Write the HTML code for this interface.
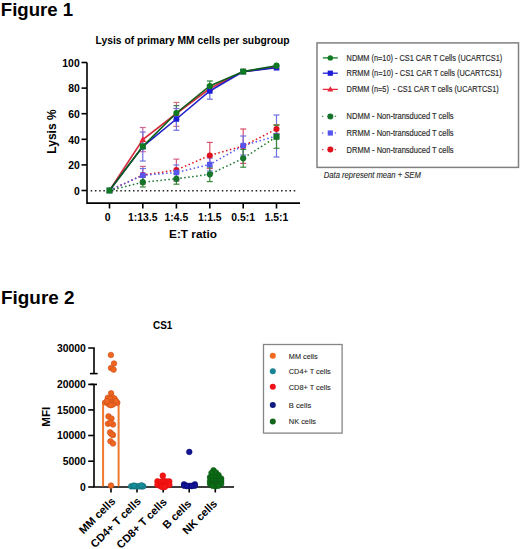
<!DOCTYPE html>
<html><head><meta charset="utf-8"><style>
html,body{margin:0;padding:0;background:#fff;width:520px;height:549px;overflow:hidden}
svg{display:block}
text{font-family:"Liberation Sans",sans-serif}
</style></head><body>
<svg width="520" height="549" viewBox="0 0 520 549">
<text x="0.8" y="15.8" font-family="Liberation Sans, sans-serif" font-size="19" font-weight="bold" textLength="72.3" lengthAdjust="spacingAndGlyphs">Figure 1</text>
<text x="1" y="303.5" font-family="Liberation Sans, sans-serif" font-size="19" font-weight="bold" textLength="73.5" lengthAdjust="spacingAndGlyphs">Figure 2</text>
<text x="95.6" y="44.4" font-family="Liberation Sans, sans-serif" font-size="10.3" font-weight="bold" textLength="194" lengthAdjust="spacingAndGlyphs">Lysis of primary MM cells per subgroup</text>
<g stroke="#000" stroke-width="1.6" fill="none">
<polyline points="87,62.5 87,203.1 300,203.1"/>
<line x1="81.5" y1="62.5" x2="87" y2="62.5"/>
<line x1="81.5" y1="88.1" x2="87" y2="88.1"/>
<line x1="81.5" y1="113.7" x2="87" y2="113.7"/>
<line x1="81.5" y1="139.3" x2="87" y2="139.3"/>
<line x1="81.5" y1="164.9" x2="87" y2="164.9"/>
<line x1="81.5" y1="190.5" x2="87" y2="190.5"/>
<line x1="109.5" y1="203" x2="109.5" y2="208.5"/>
<line x1="142.8" y1="203" x2="142.8" y2="208.5"/>
<line x1="176.4" y1="203" x2="176.4" y2="208.5"/>
<line x1="209.8" y1="203" x2="209.8" y2="208.5"/>
<line x1="243.2" y1="203" x2="243.2" y2="208.5"/>
<line x1="276.5" y1="203" x2="276.5" y2="208.5"/>
</g>
<line x1="90.7" y1="190.7" x2="297" y2="190.7" stroke="#222" stroke-width="1.5" stroke-dasharray="1.5 2.73"/>
<text x="79.7" y="66.8" font-family="Liberation Sans, sans-serif" font-size="10.4" font-weight="bold" text-anchor="end">100</text>
<text x="79.7" y="92.39999999999999" font-family="Liberation Sans, sans-serif" font-size="10.4" font-weight="bold" text-anchor="end">80</text>
<text x="79.7" y="118.0" font-family="Liberation Sans, sans-serif" font-size="10.4" font-weight="bold" text-anchor="end">60</text>
<text x="79.7" y="143.60000000000002" font-family="Liberation Sans, sans-serif" font-size="10.4" font-weight="bold" text-anchor="end">40</text>
<text x="79.7" y="169.20000000000002" font-family="Liberation Sans, sans-serif" font-size="10.4" font-weight="bold" text-anchor="end">20</text>
<text x="79.7" y="194.8" font-family="Liberation Sans, sans-serif" font-size="10.4" font-weight="bold" text-anchor="end">0</text>
<text x="107.6" y="221" font-family="Liberation Sans, sans-serif" font-size="10.4" font-weight="bold" text-anchor="middle">0</text>
<text x="142.8" y="221" font-family="Liberation Sans, sans-serif" font-size="10.4" font-weight="bold" text-anchor="middle">1:13.5</text>
<text x="176.4" y="221" font-family="Liberation Sans, sans-serif" font-size="10.4" font-weight="bold" text-anchor="middle">1:4.5</text>
<text x="209.8" y="221" font-family="Liberation Sans, sans-serif" font-size="10.4" font-weight="bold" text-anchor="middle">1:1.5</text>
<text x="243.2" y="221" font-family="Liberation Sans, sans-serif" font-size="10.4" font-weight="bold" text-anchor="middle">0.5:1</text>
<text x="276.5" y="221" font-family="Liberation Sans, sans-serif" font-size="10.4" font-weight="bold" text-anchor="middle">1.5:1</text>
<text x="193" y="237.7" font-family="Liberation Sans, sans-serif" font-size="11.8" font-weight="bold" text-anchor="middle">E:T ratio</text>
<text transform="translate(55.8,131.5) rotate(-90)" font-family="Liberation Sans, sans-serif" font-size="12" font-weight="bold" text-anchor="middle">Lysis %</text>
<polyline points="109.5,190.5 142.8,175.0 176.4,170.0 209.8,155.4 243.2,146.0 276.5,129.1" fill="none" stroke="#e0101c" stroke-width="1.5" stroke-dasharray="1.5 2.5"/>
<polyline points="109.5,190.5 142.8,175.3 176.4,172.5 209.8,164.5 243.2,145.6 276.5,136.0" fill="none" stroke="#5656ee" stroke-width="1.5" stroke-dasharray="1.5 2.5"/>
<polyline points="109.5,190.5 142.8,182.2 176.4,178.8 209.8,174.3 243.2,158.3 276.5,136.8" fill="none" stroke="#15732a" stroke-width="1.5" stroke-dasharray="1.5 2.5"/>
<g stroke="#d0689a" stroke-width="1.2"><line x1="142.8" y1="127.5" x2="142.8" y2="151.7"/><line x1="139.8" y1="127.5" x2="145.8" y2="127.5"/><line x1="139.8" y1="151.7" x2="145.8" y2="151.7"/></g>
<g stroke="#7070e0" stroke-width="1.2"><line x1="142.8" y1="132" x2="142.8" y2="161"/><line x1="139.8" y1="132" x2="145.8" y2="132"/><line x1="139.8" y1="161" x2="145.8" y2="161"/></g>
<g stroke="#d87080" stroke-width="1.2"><line x1="176.4" y1="102.4" x2="176.4" y2="126.3"/><line x1="173.4" y1="102.4" x2="179.4" y2="102.4"/><line x1="173.4" y1="126.3" x2="179.4" y2="126.3"/></g>
<g stroke="#4a7a5a" stroke-width="1.2"><line x1="176.4" y1="105.6" x2="176.4" y2="119.5"/><line x1="173.4" y1="105.6" x2="179.4" y2="105.6"/><line x1="173.4" y1="119.5" x2="179.4" y2="119.5"/></g>
<g stroke="#7070e0" stroke-width="1.2"><line x1="176.4" y1="108.5" x2="176.4" y2="130.3"/><line x1="173.4" y1="108.5" x2="179.4" y2="108.5"/><line x1="173.4" y1="130.3" x2="179.4" y2="130.3"/></g>
<g stroke="#2a8a3a" stroke-width="1.2"><line x1="209.8" y1="81" x2="209.8" y2="91"/><line x1="206.8" y1="81" x2="212.8" y2="81"/><line x1="206.8" y1="91" x2="212.8" y2="91"/></g>
<g stroke="#7070e0" stroke-width="1.2"><line x1="209.8" y1="86" x2="209.8" y2="99.2"/><line x1="206.8" y1="86" x2="212.8" y2="86"/><line x1="206.8" y1="99.2" x2="212.8" y2="99.2"/></g>
<g stroke="#d06080" stroke-width="1.2"><line x1="142.8" y1="166.4" x2="142.8" y2="184"/><line x1="139.8" y1="166.4" x2="145.8" y2="166.4"/><line x1="139.8" y1="184" x2="145.8" y2="184"/></g>
<g stroke="#7070e0" stroke-width="1.2"><line x1="142.8" y1="168.5" x2="142.8" y2="182"/><line x1="139.8" y1="168.5" x2="145.8" y2="168.5"/><line x1="139.8" y1="182" x2="145.8" y2="182"/></g>
<g stroke="#3a8a3a" stroke-width="1.2"><line x1="142.8" y1="177" x2="142.8" y2="187"/><line x1="139.8" y1="177" x2="145.8" y2="177"/><line x1="139.8" y1="187" x2="145.8" y2="187"/></g>
<g stroke="#d06080" stroke-width="1.2"><line x1="176.4" y1="159.1" x2="176.4" y2="181"/><line x1="173.4" y1="159.1" x2="179.4" y2="159.1"/><line x1="173.4" y1="181" x2="179.4" y2="181"/></g>
<g stroke="#7070e0" stroke-width="1.2"><line x1="176.4" y1="165" x2="176.4" y2="180"/><line x1="173.4" y1="165" x2="179.4" y2="165"/><line x1="173.4" y1="180" x2="179.4" y2="180"/></g>
<g stroke="#3a8a3a" stroke-width="1.2"><line x1="176.4" y1="173.5" x2="176.4" y2="184.2"/><line x1="173.4" y1="173.5" x2="179.4" y2="173.5"/><line x1="173.4" y1="184.2" x2="179.4" y2="184.2"/></g>
<g stroke="#d8506a" stroke-width="1.2"><line x1="209.8" y1="142.4" x2="209.8" y2="168.4"/><line x1="206.8" y1="142.4" x2="212.8" y2="142.4"/><line x1="206.8" y1="168.4" x2="212.8" y2="168.4"/></g>
<g stroke="#7070e0" stroke-width="1.2"><line x1="209.8" y1="158" x2="209.8" y2="171"/><line x1="206.8" y1="158" x2="212.8" y2="158"/><line x1="206.8" y1="171" x2="212.8" y2="171"/></g>
<g stroke="#3a8a3a" stroke-width="1.2"><line x1="209.8" y1="167" x2="209.8" y2="181.6"/><line x1="206.8" y1="167" x2="212.8" y2="167"/><line x1="206.8" y1="181.6" x2="212.8" y2="181.6"/></g>
<g stroke="#d8506a" stroke-width="1.2"><line x1="243.2" y1="129" x2="243.2" y2="163.4"/><line x1="240.2" y1="129" x2="246.2" y2="129"/><line x1="240.2" y1="163.4" x2="246.2" y2="163.4"/></g>
<g stroke="#7070e0" stroke-width="1.2"><line x1="243.2" y1="136" x2="243.2" y2="155"/><line x1="240.2" y1="136" x2="246.2" y2="136"/><line x1="240.2" y1="155" x2="246.2" y2="155"/></g>
<g stroke="#3a8a3a" stroke-width="1.2"><line x1="243.2" y1="149.4" x2="243.2" y2="167.2"/><line x1="240.2" y1="149.4" x2="246.2" y2="149.4"/><line x1="240.2" y1="167.2" x2="246.2" y2="167.2"/></g>
<g stroke="#7070e0" stroke-width="1.2"><line x1="276.5" y1="115" x2="276.5" y2="157"/><line x1="273.5" y1="115" x2="279.5" y2="115"/><line x1="273.5" y1="157" x2="279.5" y2="157"/></g>
<g stroke="#b07060" stroke-width="1.2"><line x1="276.5" y1="124.7" x2="276.5" y2="133.5"/><line x1="273.5" y1="124.7" x2="279.5" y2="124.7"/><line x1="273.5" y1="133.5" x2="279.5" y2="133.5"/></g>
<g stroke="#3a8a3a" stroke-width="1.2"><line x1="276.5" y1="125.3" x2="276.5" y2="148.3"/><line x1="273.5" y1="125.3" x2="279.5" y2="125.3"/><line x1="273.5" y1="148.3" x2="279.5" y2="148.3"/></g>
<circle cx="142.8" cy="175.0" r="3" fill="#e0101c"/>
<rect x="140.05" y="172.55" width="5.5" height="5.5" fill="#5656ee"/>
<circle cx="142.8" cy="182.2" r="3.1" fill="#15732a"/>
<circle cx="176.4" cy="170.0" r="3" fill="#e0101c"/>
<rect x="173.65" y="169.75" width="5.5" height="5.5" fill="#5656ee"/>
<circle cx="176.4" cy="178.8" r="3.1" fill="#15732a"/>
<circle cx="209.8" cy="155.4" r="3" fill="#e0101c"/>
<rect x="207.05" y="161.75" width="5.5" height="5.5" fill="#5656ee"/>
<circle cx="209.8" cy="174.3" r="3.1" fill="#15732a"/>
<circle cx="243.2" cy="146.0" r="3" fill="#e0101c"/>
<rect x="240.45" y="142.85" width="5.5" height="5.5" fill="#5656ee"/>
<circle cx="243.2" cy="158.3" r="3.1" fill="#15732a"/>
<circle cx="276.5" cy="129.1" r="3" fill="#e0101c"/>
<rect x="273.75" y="133.25" width="5.5" height="5.5" fill="#5656ee"/>
<rect x="273.5" y="133.8" width="6" height="6" fill="#15732a"/>
<polyline points="109.5,190.5 142.8,139.6 176.4,113.5 209.8,88.5 243.2,71.6 276.5,67.0" fill="none" stroke="#d42a3c" stroke-width="1.6"/>
<polyline points="109.5,190.5 142.8,146.6 176.4,119.0 209.8,91.0 243.2,71.6 276.5,67.8" fill="none" stroke="#2020c8" stroke-width="1.6"/>
<polyline points="109.5,190.5 142.8,146.4 176.4,113.0 209.8,86.0 243.2,71.6 276.5,65.7" fill="none" stroke="#0c5e18" stroke-width="1.6"/>
<polygon points="109.5,186.99 112.75,192.84 106.25,192.84" fill="#e8283c"/>
<rect x="106.75" y="187.75" width="5.5" height="5.5" fill="#1c1cd8"/>
<rect x="106.5" y="187.5" width="6" height="6" fill="#0f7a22"/>
<polygon points="142.8,136.09 146.05,141.94 139.55,141.94" fill="#e8283c"/>
<rect x="140.05" y="143.85" width="5.5" height="5.5" fill="#1c1cd8"/>
<rect x="139.8" y="143.4" width="6" height="6" fill="#0f7a22"/>
<polygon points="176.4,109.99 179.65,115.84 173.15,115.84" fill="#e8283c"/>
<rect x="173.65" y="116.25" width="5.5" height="5.5" fill="#1c1cd8"/>
<circle cx="176.4" cy="113.0" r="3.1" fill="#0f7a22"/>
<polygon points="209.8,84.99 213.05,90.84 206.55,90.84" fill="#e8283c"/>
<rect x="207.05" y="88.25" width="5.5" height="5.5" fill="#1c1cd8"/>
<circle cx="209.8" cy="86.0" r="3.1" fill="#0f7a22"/>
<polygon points="243.2,68.08999999999999 246.45,73.94 239.95,73.94" fill="#e8283c"/>
<rect x="240.45" y="68.85" width="5.5" height="5.5" fill="#1c1cd8"/>
<rect x="240.2" y="68.6" width="6" height="6" fill="#0f7a22"/>
<polygon points="276.5,63.49 279.75,69.34 273.25,69.34" fill="#e8283c"/>
<rect x="273.75" y="65.05" width="5.5" height="5.5" fill="#1c1cd8"/>
<circle cx="276.5" cy="65.7" r="3.1" fill="#0f7a22"/>
<rect x="317" y="42.9" width="201.5" height="124.5" fill="none" stroke="#808080" stroke-width="1.5"/>
<line x1="322.8" y1="57.9" x2="337.8" y2="57.9" stroke="#0f7a22" stroke-width="1.3"/>
<circle cx="330.3" cy="57.9" r="2.7" fill="#0f7a22"/>
<text x="346.6" y="60.5" font-family="Liberation Sans, sans-serif" font-size="8.2" fill="#2a2a2a" stroke="#2a2a2a" stroke-width="0.15" textLength="155.7" lengthAdjust="spacingAndGlyphs" xml:space="preserve">NDMM (n=10) - CS1 CAR T Cells (UCARTCS1)</text>
<line x1="322.8" y1="73.2" x2="337.8" y2="73.2" stroke="#1c1cd8" stroke-width="1.3"/>
<rect x="327.7" y="70.60000000000001" width="5.2" height="5.2" fill="#1c1cd8"/>
<text x="346.6" y="75.8" font-family="Liberation Sans, sans-serif" font-size="8.2" fill="#2a2a2a" stroke="#2a2a2a" stroke-width="0.15" textLength="155.1" lengthAdjust="spacingAndGlyphs" xml:space="preserve">RRMM (n=10) - CS1 CAR T cells (UCARTCS1)</text>
<line x1="322.8" y1="89.4" x2="337.8" y2="89.4" stroke="#e8283c" stroke-width="1.3"/>
<polygon points="330.3,86.16000000000001 333.3,91.56 327.3,91.56" fill="#e8283c"/>
<text x="346.6" y="92.0" font-family="Liberation Sans, sans-serif" font-size="8.2" fill="#2a2a2a" stroke="#2a2a2a" stroke-width="0.15" textLength="152.2" lengthAdjust="spacingAndGlyphs" xml:space="preserve">DRMM (n=5)  - CS1 CAR T cells (UCARTCS1)</text>
<line x1="322" y1="116.4" x2="338" y2="116.4" stroke="#15732a" stroke-width="1.3" stroke-dasharray="1.3 11.5" opacity="0.8"/>
<circle cx="330.3" cy="116.4" r="3" fill="#15732a"/>
<text x="346.6" y="119.4" font-family="Liberation Sans, sans-serif" font-size="8.2" fill="#2a2a2a" stroke="#2a2a2a" stroke-width="0.15" textLength="107" lengthAdjust="spacingAndGlyphs" xml:space="preserve">NDMM - Non-transduced T cells</text>
<line x1="322" y1="133.0" x2="338" y2="133.0" stroke="#5656ee" stroke-width="1.3" stroke-dasharray="1.3 11.5" opacity="0.8"/>
<rect x="327.7" y="130.4" width="5.2" height="5.2" fill="#5656ee"/>
<text x="346.6" y="136.0" font-family="Liberation Sans, sans-serif" font-size="8.2" fill="#2a2a2a" stroke="#2a2a2a" stroke-width="0.15" textLength="107" lengthAdjust="spacingAndGlyphs" xml:space="preserve">RRMM - Non-transduced T cells</text>
<line x1="322" y1="149.6" x2="338" y2="149.6" stroke="#e0101c" stroke-width="1.3" stroke-dasharray="1.3 11.5" opacity="0.8"/>
<circle cx="330.3" cy="149.6" r="3" fill="#e0101c"/>
<text x="346.6" y="152.6" font-family="Liberation Sans, sans-serif" font-size="8.2" fill="#2a2a2a" stroke="#2a2a2a" stroke-width="0.15" textLength="107" lengthAdjust="spacingAndGlyphs" xml:space="preserve">DRMM - Non-transduced T cells</text>
<text x="323.8" y="178.1" font-family="Liberation Sans, sans-serif" font-size="8.2" font-style="italic" fill="#2a2a2a" stroke="#2a2a2a" stroke-width="0.12" textLength="97" lengthAdjust="spacingAndGlyphs">Data represent mean + SEM</text>
<text x="153" y="328.9" font-family="Liberation Sans, sans-serif" font-size="10" font-weight="bold" textLength="19.4" lengthAdjust="spacingAndGlyphs">CS1</text>
<g stroke="#000" stroke-width="1.6" fill="none">
<polyline points="88.2,348 94,348 94,373.6"/>
<line x1="90" y1="373.6" x2="97.6" y2="373.6"/>
<line x1="90.5" y1="384.4" x2="97" y2="384.4"/>
<line x1="88.2" y1="384.4" x2="94" y2="384.4"/>
<polyline points="94,384.4 94,487 234,487"/>
<line x1="88.2" y1="409.9" x2="94" y2="409.9"/>
<line x1="88.2" y1="435.5" x2="94" y2="435.5"/>
<line x1="88.2" y1="461.2" x2="94" y2="461.2"/>
<line x1="88.2" y1="487" x2="94" y2="487"/>
</g>
<line x1="111" y1="487" x2="111" y2="492.5" stroke="#000" stroke-width="1.6"/>
<line x1="137" y1="487" x2="137" y2="492.5" stroke="#000" stroke-width="1.6"/>
<line x1="163.2" y1="487" x2="163.2" y2="492.5" stroke="#000" stroke-width="1.6"/>
<line x1="189.2" y1="487" x2="189.2" y2="492.5" stroke="#000" stroke-width="1.6"/>
<line x1="215.3" y1="487" x2="215.3" y2="492.5" stroke="#000" stroke-width="1.6"/>
<text x="85.8" y="351.7" font-family="Liberation Sans, sans-serif" font-size="10.4" font-weight="bold" text-anchor="end">30000</text>
<text x="85.8" y="388.09999999999997" font-family="Liberation Sans, sans-serif" font-size="10.4" font-weight="bold" text-anchor="end">20000</text>
<text x="85.8" y="413.59999999999997" font-family="Liberation Sans, sans-serif" font-size="10.4" font-weight="bold" text-anchor="end">15000</text>
<text x="85.8" y="439.2" font-family="Liberation Sans, sans-serif" font-size="10.4" font-weight="bold" text-anchor="end">10000</text>
<text x="85.8" y="464.9" font-family="Liberation Sans, sans-serif" font-size="10.4" font-weight="bold" text-anchor="end">5000</text>
<text x="85.8" y="490.7" font-family="Liberation Sans, sans-serif" font-size="10.4" font-weight="bold" text-anchor="end">0</text>
<text transform="translate(49.7,416.7) rotate(-90)" font-family="Liberation Sans, sans-serif" font-size="11.6" font-weight="bold" text-anchor="middle">MFI</text>
<text transform="translate(116,502) rotate(-45)" font-family="Liberation Sans, sans-serif" font-size="11" font-weight="bold" text-anchor="end">MM cells</text>
<text transform="translate(141.5,502) rotate(-45)" font-family="Liberation Sans, sans-serif" font-size="11" font-weight="bold" text-anchor="end">CD4+ T cells</text>
<text transform="translate(167.5,502.7) rotate(-45)" font-family="Liberation Sans, sans-serif" font-size="11" font-weight="bold" text-anchor="end">CD8+ T cells</text>
<text transform="translate(192.2,504.3) rotate(-45)" font-family="Liberation Sans, sans-serif" font-size="11" font-weight="bold" text-anchor="end">B cells</text>
<text transform="translate(217.8,504.3) rotate(-45)" font-family="Liberation Sans, sans-serif" font-size="11" font-weight="bold" text-anchor="end">NK cells</text>
<path d="M103.1,486.2 V401.8 H118.6 V486.2" fill="none" stroke="#ef7a2e" stroke-width="2"/>
<circle cx="110.9" cy="355" r="2.8" fill="#f0651f" stroke="#c9501a" stroke-width="0.6"/>
<circle cx="114" cy="363.5" r="2.8" fill="#f0651f" stroke="#c9501a" stroke-width="0.6"/>
<circle cx="111" cy="368" r="2.8" fill="#f0651f" stroke="#c9501a" stroke-width="0.6"/>
<circle cx="113.6" cy="369.6" r="2.8" fill="#f0651f" stroke="#c9501a" stroke-width="0.6"/>
<circle cx="111.1" cy="393.3" r="2.8" fill="#f0651f" stroke="#c9501a" stroke-width="0.6"/>
<circle cx="107.8" cy="397.9" r="2.8" fill="#f0651f" stroke="#c9501a" stroke-width="0.6"/>
<circle cx="112.2" cy="397.4" r="2.8" fill="#f0651f" stroke="#c9501a" stroke-width="0.6"/>
<circle cx="114.5" cy="398.5" r="2.8" fill="#f0651f" stroke="#c9501a" stroke-width="0.6"/>
<circle cx="110" cy="399" r="2.8" fill="#f0651f" stroke="#c9501a" stroke-width="0.6"/>
<circle cx="105.5" cy="402.5" r="2.8" fill="#f0651f" stroke="#c9501a" stroke-width="0.6"/>
<circle cx="108" cy="402.8" r="2.8" fill="#f0651f" stroke="#c9501a" stroke-width="0.6"/>
<circle cx="110.5" cy="402.3" r="2.8" fill="#f0651f" stroke="#c9501a" stroke-width="0.6"/>
<circle cx="113" cy="402.5" r="2.8" fill="#f0651f" stroke="#c9501a" stroke-width="0.6"/>
<circle cx="115.5" cy="402.3" r="2.8" fill="#f0651f" stroke="#c9501a" stroke-width="0.6"/>
<circle cx="117.3" cy="402.8" r="2.8" fill="#f0651f" stroke="#c9501a" stroke-width="0.6"/>
<circle cx="109" cy="404.5" r="2.8" fill="#f0651f" stroke="#c9501a" stroke-width="0.6"/>
<circle cx="113" cy="404.5" r="2.8" fill="#f0651f" stroke="#c9501a" stroke-width="0.6"/>
<circle cx="110.8" cy="405.2" r="2.8" fill="#f0651f" stroke="#c9501a" stroke-width="0.6"/>
<circle cx="107" cy="401" r="2.8" fill="#f0651f" stroke="#c9501a" stroke-width="0.6"/>
<circle cx="116" cy="401" r="2.8" fill="#f0651f" stroke="#c9501a" stroke-width="0.6"/>
<circle cx="108.5" cy="416.4" r="2.8" fill="#f0651f" stroke="#c9501a" stroke-width="0.6"/>
<circle cx="111.5" cy="418.5" r="2.8" fill="#f0651f" stroke="#c9501a" stroke-width="0.6"/>
<circle cx="108" cy="423.7" r="2.8" fill="#f0651f" stroke="#c9501a" stroke-width="0.6"/>
<circle cx="113" cy="424.5" r="2.8" fill="#f0651f" stroke="#c9501a" stroke-width="0.6"/>
<circle cx="110.5" cy="422.5" r="2.8" fill="#f0651f" stroke="#c9501a" stroke-width="0.6"/>
<circle cx="111" cy="433.5" r="2.8" fill="#f0651f" stroke="#c9501a" stroke-width="0.6"/>
<circle cx="113" cy="435" r="2.8" fill="#f0651f" stroke="#c9501a" stroke-width="0.6"/>
<circle cx="110.1" cy="432.4" r="2.8" fill="#f0651f" stroke="#c9501a" stroke-width="0.6"/>
<circle cx="112" cy="434.5" r="2.8" fill="#f0651f" stroke="#c9501a" stroke-width="0.6"/>
<circle cx="110.5" cy="441.2" r="2.8" fill="#f0651f" stroke="#c9501a" stroke-width="0.6"/>
<circle cx="113" cy="443.5" r="2.8" fill="#f0651f" stroke="#c9501a" stroke-width="0.6"/>
<circle cx="111" cy="485.6" r="2.8" fill="#f0651f" stroke="#c9501a" stroke-width="0.6"/>
<circle cx="131.3" cy="486.3" r="2.9" fill="#178c99" stroke="#106a74" stroke-width="0.6"/>
<circle cx="134" cy="486.3" r="2.9" fill="#178c99" stroke="#106a74" stroke-width="0.6"/>
<circle cx="136.5" cy="486.3" r="2.9" fill="#178c99" stroke="#106a74" stroke-width="0.6"/>
<circle cx="139" cy="486.3" r="2.9" fill="#178c99" stroke="#106a74" stroke-width="0.6"/>
<circle cx="141.5" cy="486.3" r="2.9" fill="#178c99" stroke="#106a74" stroke-width="0.6"/>
<circle cx="143.2" cy="486.3" r="2.9" fill="#178c99" stroke="#106a74" stroke-width="0.6"/>
<circle cx="134" cy="485.6" r="2.9" fill="#178c99" stroke="#106a74" stroke-width="0.6"/>
<circle cx="141.5" cy="485.4" r="2.9" fill="#178c99" stroke="#106a74" stroke-width="0.6"/>
<circle cx="162.8" cy="475.7" r="2.9" fill="#f51515" stroke="#e00c0c" stroke-width="0.6"/>
<circle cx="157.5" cy="481.3" r="2.9" fill="#f51515" stroke="#e00c0c" stroke-width="0.6"/>
<circle cx="160.3" cy="482" r="2.9" fill="#f51515" stroke="#e00c0c" stroke-width="0.6"/>
<circle cx="163" cy="481" r="2.9" fill="#f51515" stroke="#e00c0c" stroke-width="0.6"/>
<circle cx="166" cy="481.5" r="2.9" fill="#f51515" stroke="#e00c0c" stroke-width="0.6"/>
<circle cx="169.2" cy="481.5" r="2.9" fill="#f51515" stroke="#e00c0c" stroke-width="0.6"/>
<circle cx="157.5" cy="484.8" r="2.9" fill="#f51515" stroke="#e00c0c" stroke-width="0.6"/>
<circle cx="160.5" cy="486" r="2.9" fill="#f51515" stroke="#e00c0c" stroke-width="0.6"/>
<circle cx="163.5" cy="486" r="2.9" fill="#f51515" stroke="#e00c0c" stroke-width="0.6"/>
<circle cx="166.5" cy="485.5" r="2.9" fill="#f51515" stroke="#e00c0c" stroke-width="0.6"/>
<circle cx="169.3" cy="484.8" r="2.9" fill="#f51515" stroke="#e00c0c" stroke-width="0.6"/>
<circle cx="162" cy="486.8" r="2.9" fill="#f51515" stroke="#e00c0c" stroke-width="0.6"/>
<circle cx="164.5" cy="487" r="2.9" fill="#f51515" stroke="#e00c0c" stroke-width="0.6"/>
<circle cx="189.3" cy="451.9" r="2.8" fill="#141496" stroke="#0c0c70" stroke-width="0.6"/>
<circle cx="184" cy="484.3" r="2.8" fill="#141496" stroke="#0c0c70" stroke-width="0.6"/>
<circle cx="186.8" cy="485.7" r="2.8" fill="#141496" stroke="#0c0c70" stroke-width="0.6"/>
<circle cx="189.5" cy="485.9" r="2.8" fill="#141496" stroke="#0c0c70" stroke-width="0.6"/>
<circle cx="192.2" cy="485.7" r="2.8" fill="#141496" stroke="#0c0c70" stroke-width="0.6"/>
<circle cx="194.9" cy="484.3" r="2.8" fill="#141496" stroke="#0c0c70" stroke-width="0.6"/>
<circle cx="184.2" cy="485.8" r="2.8" fill="#141496" stroke="#0c0c70" stroke-width="0.6"/>
<circle cx="194.8" cy="485.8" r="2.8" fill="#141496" stroke="#0c0c70" stroke-width="0.6"/>
<circle cx="187" cy="486.1" r="2.8" fill="#141496" stroke="#0c0c70" stroke-width="0.6"/>
<circle cx="191.8" cy="486.1" r="2.8" fill="#141496" stroke="#0c0c70" stroke-width="0.6"/>
<circle cx="213.5" cy="470.3" r="2.8" fill="#0c6c16" stroke="#0a5512" stroke-width="0.6"/>
<circle cx="216" cy="472.6" r="2.8" fill="#0c6c16" stroke="#0a5512" stroke-width="0.6"/>
<circle cx="218.5" cy="475" r="2.8" fill="#0c6c16" stroke="#0a5512" stroke-width="0.6"/>
<circle cx="211.5" cy="473" r="2.8" fill="#0c6c16" stroke="#0a5512" stroke-width="0.6"/>
<circle cx="210" cy="477.2" r="2.8" fill="#0c6c16" stroke="#0a5512" stroke-width="0.6"/>
<circle cx="213" cy="477.3" r="2.8" fill="#0c6c16" stroke="#0a5512" stroke-width="0.6"/>
<circle cx="216" cy="477.3" r="2.8" fill="#0c6c16" stroke="#0a5512" stroke-width="0.6"/>
<circle cx="219" cy="477.5" r="2.8" fill="#0c6c16" stroke="#0a5512" stroke-width="0.6"/>
<circle cx="221.2" cy="478.6" r="2.8" fill="#0c6c16" stroke="#0a5512" stroke-width="0.6"/>
<circle cx="210" cy="481" r="2.8" fill="#0c6c16" stroke="#0a5512" stroke-width="0.6"/>
<circle cx="213" cy="481" r="2.8" fill="#0c6c16" stroke="#0a5512" stroke-width="0.6"/>
<circle cx="216" cy="481" r="2.8" fill="#0c6c16" stroke="#0a5512" stroke-width="0.6"/>
<circle cx="219" cy="481" r="2.8" fill="#0c6c16" stroke="#0a5512" stroke-width="0.6"/>
<circle cx="221.2" cy="481" r="2.8" fill="#0c6c16" stroke="#0a5512" stroke-width="0.6"/>
<circle cx="210" cy="483.8" r="2.8" fill="#0c6c16" stroke="#0a5512" stroke-width="0.6"/>
<circle cx="213" cy="484.4" r="2.8" fill="#0c6c16" stroke="#0a5512" stroke-width="0.6"/>
<circle cx="216" cy="484.5" r="2.8" fill="#0c6c16" stroke="#0a5512" stroke-width="0.6"/>
<circle cx="219" cy="484.4" r="2.8" fill="#0c6c16" stroke="#0a5512" stroke-width="0.6"/>
<circle cx="221.2" cy="483.8" r="2.8" fill="#0c6c16" stroke="#0a5512" stroke-width="0.6"/>
<circle cx="215.5" cy="486.3" r="2.8" fill="#0c6c16" stroke="#0a5512" stroke-width="0.6"/>
<circle cx="212.5" cy="485.8" r="2.8" fill="#0c6c16" stroke="#0a5512" stroke-width="0.6"/>
<circle cx="218.5" cy="485.8" r="2.8" fill="#0c6c16" stroke="#0a5512" stroke-width="0.6"/>
<rect x="263.5" y="344.5" width="78.6" height="88.6" fill="none" stroke="#858585" stroke-width="1.3"/>
<circle cx="272.8" cy="355.8" r="3" fill="#f0691e"/>
<text x="288.8" y="358.5" font-family="Liberation Sans, sans-serif" font-size="7.8" fill="#2a2a2a" stroke="#2a2a2a" stroke-width="0.12" textLength="28.8" lengthAdjust="spacingAndGlyphs">MM cells</text>
<circle cx="272.8" cy="371.2" r="3" fill="#1b8494"/>
<text x="288.8" y="373.9" font-family="Liberation Sans, sans-serif" font-size="7.8" fill="#2a2a2a" stroke="#2a2a2a" stroke-width="0.12" textLength="42" lengthAdjust="spacingAndGlyphs">CD4+ T cells</text>
<circle cx="272.8" cy="386.8" r="3" fill="#f01018"/>
<text x="288.8" y="389.5" font-family="Liberation Sans, sans-serif" font-size="7.8" fill="#2a2a2a" stroke="#2a2a2a" stroke-width="0.12" textLength="42" lengthAdjust="spacingAndGlyphs">CD8+ T cells</text>
<circle cx="272.8" cy="405.1" r="3" fill="#101a80"/>
<text x="288.8" y="407.8" font-family="Liberation Sans, sans-serif" font-size="7.8" fill="#2a2a2a" stroke="#2a2a2a" stroke-width="0.12" textLength="22.4" lengthAdjust="spacingAndGlyphs">B cells</text>
<circle cx="272.8" cy="421.6" r="3" fill="#11661c"/>
<text x="288.8" y="424.3" font-family="Liberation Sans, sans-serif" font-size="7.8" fill="#2a2a2a" stroke="#2a2a2a" stroke-width="0.12" textLength="27.2" lengthAdjust="spacingAndGlyphs">NK cells</text>
</svg>
</body></html>
